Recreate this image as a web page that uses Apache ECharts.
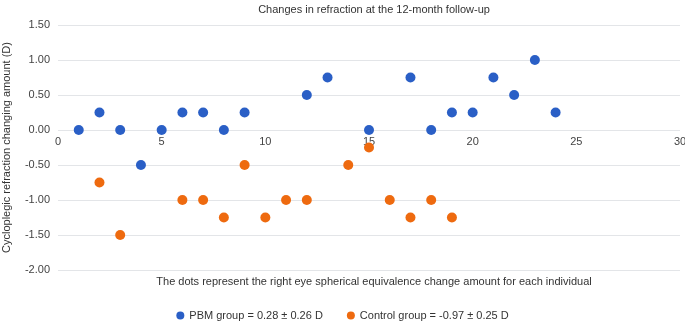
<!DOCTYPE html>
<html>
<head>
<meta charset="utf-8">
<script src="https://cdn.jsdelivr.net/npm/echarts@6/dist/echarts.min.js"></script>
<style>
  html, body { margin: 0; padding: 0; background: #fff; }
  #main { width: 685px; height: 325px; }
</style>
</head>
<body>
<div id="main"></div>
<script>
// subject number vs change in refraction (D)
const pbmX = [1, 2, 3, 4, 5, 6, 7, 8, 9, 12, 13, 15, 17, 18, 19, 20, 21, 22, 23, 24];
const pbmY = [0, 0.25, 0, -0.5, 0, 0.25, 0.25, 0, 0.25, 0.5, 0.75, 0, 0.75, 0, 0.25, 0.25, 0.75, 0.5, 1.0, 0.25];
const ctrlX = [2, 3, 6, 7, 8, 9, 10, 11, 12, 14, 15, 16, 17, 18, 19];
const ctrlY = [-0.75, -1.5, -1.0, -1.0, -1.25, -0.5, -1.25, -1.0, -1.0, -0.5, -0.25, -1.0, -1.25, -1.0, -1.25];
const seriesNames = ['PBM group = 0.28 ± 0.26 D', 'Control group = -0.97 ± 0.25 D'];

const font = 'Liberation Sans, Arial, sans-serif';
let myChart = echarts.init(document.getElementById('main'));

const toPairs = (xs, ys) => xs.map((x, i) => [x, ys[i]]);

myChart.setOption({
  animation: false,
  textStyle: { fontFamily: font },
  title: [
    {
      text: 'Changes in refraction at the 12-month follow-up',
      left: 369, top: -1, textAlign: 'center',
      textStyle: { fontSize: 11, fontWeight: 'normal', color: '#333', fontFamily: font }
    },
    {
      // x axis title sits under the plot
      text: 'The dots represent the right eye spherical equivalence change amount for each individual',
      left: 369, top: 271, textAlign: 'center',
      textStyle: { fontSize: 11, fontWeight: 'normal', color: '#333', fontFamily: font }
    }
  ],
  legend: {
    top: 305, left: 'center', icon: 'circle', itemWidth: 8, itemHeight: 8, itemGap: 24,
    textStyle: { fontSize: 11, color: '#333', fontFamily: font },
    data: seriesNames
  },
  grid: { left: 58, right: 5, top: 25, bottom: 55, containLabel: false, outerBoundsMode: 'none' },
  xAxis: {
    type: 'value', min: 0, max: 30, interval: 5,
    axisLine: { show: false },
    axisTick: { show: false },
    splitLine: { show: false },
    // labels pulled up to sit just under the 0.00 line
    axisLabel: { fontSize: 11, color: '#444', margin: -134 }
  },
  yAxis: {
    type: 'value', min: -2, max: 1.5, interval: 0.5,
    name: 'Cycloplegic refraction changing amount (D)',
    nameLocation: 'middle', nameGap: 46,
    nameTextStyle: { fontSize: 11, color: '#333' },
    axisLine: { show: false, onZero: false },
    axisTick: { show: false },
    splitLine: { lineStyle: { color: '#e3e5e8', width: 1 } },
    axisLabel: { fontSize: 11, color: '#444', margin: 8, formatter: v => v.toFixed(2) }
  },
  series: [
    {
      name: seriesNames[0], type: 'scatter', symbolSize: 10,
      itemStyle: { color: '#2a5fc6', opacity: 1 },
      data: toPairs(pbmX, pbmY)
    },
    {
      name: seriesNames[1], type: 'scatter', symbolSize: 10,
      itemStyle: { color: '#ee6a0f', opacity: 1 },
      data: toPairs(ctrlX, ctrlY)
    }
  ]
});
</script>
</body>
</html>
